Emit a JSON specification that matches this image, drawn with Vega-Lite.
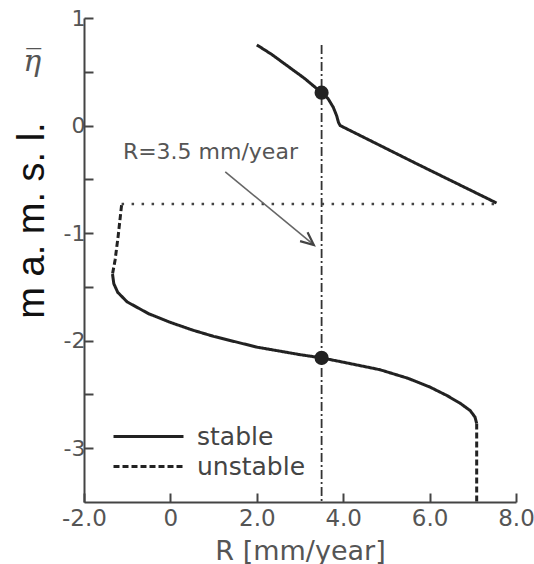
{
  "$schema": "https://vega.github.io/schema/vega-lite/v6.json",
  "width": 432,
  "height": 484,
  "autosize": {"type": "none"},
  "padding": {"left": 84, "top": 18, "right": 18, "bottom": 62},
  "config": {
    "view": {"stroke": null},
    "font": "DejaVu Sans",
    "legend": {
      "orient": "none",
      "legendX": 52,
      "legendY": 406,
      "padding": 0,
      "symbolType": "M -5 0 H 5",
      "symbolSize": 196,
      "symbolStrokeWidth": 3,
      "symbolStrokeColor": "#222",
      "symbolFillColor": "transparent",
      "labelFontSize": 25,
      "labelColor": "#444",
      "labelOffset": 36,
      "rowPadding": 4,
      "title": null
    }
  },
  "datasets": {
    "curves": [
      {"series": "upper", "stability": "stable", "ord": 1, "R": 2.0, "eta": 0.75},
      {"series": "upper", "stability": "stable", "ord": 2, "R": 2.35, "eta": 0.66},
      {"series": "upper", "stability": "stable", "ord": 3, "R": 2.69, "eta": 0.56},
      {"series": "upper", "stability": "stable", "ord": 4, "R": 3.1, "eta": 0.44},
      {"series": "upper", "stability": "stable", "ord": 5, "R": 3.5, "eta": 0.306},
      {"series": "upper", "stability": "stable", "ord": 6, "R": 3.65, "eta": 0.25},
      {"series": "upper", "stability": "stable", "ord": 7, "R": 3.77, "eta": 0.17},
      {"series": "upper", "stability": "stable", "ord": 8, "R": 3.85, "eta": 0.09},
      {"series": "upper", "stability": "stable", "ord": 9, "R": 3.89, "eta": 0.03},
      {"series": "upper", "stability": "stable", "ord": 10, "R": 3.93, "eta": 0.0},
      {"series": "upper", "stability": "stable", "ord": 11, "R": 5.7, "eta": -0.355},
      {"series": "upper", "stability": "stable", "ord": 12, "R": 7.55, "eta": -0.72},
      {"series": "low1", "stability": "unstable", "ord": 1, "R": -1.13, "eta": -0.74},
      {"series": "low1", "stability": "unstable", "ord": 2, "R": -1.21, "eta": -1.03},
      {"series": "low1", "stability": "unstable", "ord": 3, "R": -1.28, "eta": -1.25},
      {"series": "low1", "stability": "unstable", "ord": 4, "R": -1.34, "eta": -1.38},
      {"series": "low2", "stability": "stable", "ord": 1, "R": -1.34, "eta": -1.38},
      {"series": "low2", "stability": "stable", "ord": 2, "R": -1.31, "eta": -1.47},
      {"series": "low2", "stability": "stable", "ord": 3, "R": -1.22, "eta": -1.55},
      {"series": "low2", "stability": "stable", "ord": 4, "R": -1.0, "eta": -1.64},
      {"series": "low2", "stability": "stable", "ord": 5, "R": -0.5, "eta": -1.75},
      {"series": "low2", "stability": "stable", "ord": 6, "R": 0.0, "eta": -1.83},
      {"series": "low2", "stability": "stable", "ord": 7, "R": 0.5, "eta": -1.9},
      {"series": "low2", "stability": "stable", "ord": 8, "R": 1.0, "eta": -1.96},
      {"series": "low2", "stability": "stable", "ord": 9, "R": 2.0, "eta": -2.06},
      {"series": "low2", "stability": "stable", "ord": 10, "R": 3.0, "eta": -2.13},
      {"series": "low2", "stability": "stable", "ord": 11, "R": 3.5, "eta": -2.16},
      {"series": "low2", "stability": "stable", "ord": 12, "R": 4.0, "eta": -2.2},
      {"series": "low2", "stability": "stable", "ord": 13, "R": 4.85, "eta": -2.27},
      {"series": "low2", "stability": "stable", "ord": 14, "R": 5.5, "eta": -2.35},
      {"series": "low2", "stability": "stable", "ord": 15, "R": 6.0, "eta": -2.43},
      {"series": "low2", "stability": "stable", "ord": 16, "R": 6.4, "eta": -2.51},
      {"series": "low2", "stability": "stable", "ord": 17, "R": 6.7, "eta": -2.58},
      {"series": "low2", "stability": "stable", "ord": 18, "R": 6.94, "eta": -2.65},
      {"series": "low2", "stability": "stable", "ord": 19, "R": 7.05, "eta": -2.71},
      {"series": "low2", "stability": "stable", "ord": 20, "R": 7.09, "eta": -2.77},
      {"series": "low3", "stability": "unstable", "ord": 1, "R": 7.09, "eta": -2.77},
      {"series": "low3", "stability": "unstable", "ord": 2, "R": 7.09, "eta": -3.5}
    ],
    "dots": [{"R": 3.5, "eta": 0.306}, {"R": 3.5, "eta": -2.16}],
    "vline": [{"R": 3.5, "eta": 0.75, "eta2": -3.5}],
    "hline": [{"R": -1.13, "R2": 7.55, "eta": -0.73}],
    "arrow": [{"R": 3.32, "eta": -1.11, "R2": 1.27, "eta2": -0.43}],
    "note": [{"R": -1.1, "eta": -0.243, "text": "R=3.5 mm/year"}],
    "symbol": [{"R": -3.2, "eta": 0.59, "text": "η̅"}]
  },
  "encoding": {
    "x": {
      "field": "R",
      "type": "quantitative",
      "title": "R [mm/year]",
      "scale": {"domain": [-2, 8], "nice": false, "zero": false},
      "axis": {
        "values": [-2, 0, 2, 4, 6, 8],
        "labelExpr": "datum.value == 0 ? '0' : datum.value + '.0'",
        "grid": false,
        "domainColor": "#444",
        "domainWidth": 2,
        "tickColor": "#444",
        "tickWidth": 2,
        "tickSize": -9,
        "labelPadding": 14,
        "labelFontSize": 23,
        "labelColor": "#555",
        "labelFlush": false,
        "labelOverlap": false,
        "titleFontSize": 27,
        "titleFontWeight": "normal",
        "titleColor": "#555",
        "titleBaseline": "alphabetic",
        "titleY": 57
      }
    },
    "y": {
      "field": "eta",
      "type": "quantitative",
      "title": "m a. m. s. l.",
      "scale": {"domain": [-3.5, 1], "nice": false, "zero": false},
      "axis": {
        "values": [1, 0.5, 0, -0.5, -1, -1.5, -2, -2.5, -3],
        "labelExpr": "datum.value % 1 == 0 ? '' + datum.value : ''",
        "grid": false,
        "domainColor": "#444",
        "domainWidth": 2,
        "tickColor": "#444",
        "tickWidth": 2,
        "tickSize": -9,
        "labelPadding": 8,
        "labelFontSize": 22,
        "labelColor": "#555",
        "labelFlush": false,
        "labelOverlap": false,
        "titleFont": "Liberation Sans",
        "titleFontSize": 38,
        "titleFontWeight": "normal",
        "titleColor": "#111",
        "titleBaseline": "alphabetic",
        "titleX": -41,
        "titleY": 202
      }
    }
  },
  "layer": [
    {
      "data": {"name": "curves"},
      "mark": {"type": "line", "strokeWidth": 3, "color": "#222"},
      "encoding": {
        "detail": {"field": "series"},
        "order": {"field": "ord", "type": "quantitative"},
        "strokeDash": {
          "field": "stability",
          "type": "nominal",
          "scale": {"domain": ["stable", "unstable"], "range": [[1, 0], [6, 3]]}
        }
      }
    },
    {
      "data": {"name": "vline"},
      "mark": {"type": "rule", "strokeDash": [9, 3, 2, 3], "strokeWidth": 1.8, "color": "#333"},
      "encoding": {"y2": {"field": "eta2"}}
    },
    {
      "data": {"name": "hline"},
      "mark": {"type": "rule", "strokeDash": [2.5, 7.5], "strokeWidth": 2.5, "color": "#444"},
      "encoding": {"x2": {"field": "R2"}}
    },
    {
      "data": {"name": "arrow"},
      "mark": {"type": "rule", "strokeWidth": 1.6, "color": "#666"},
      "encoding": {"x2": {"field": "R2"}, "y2": {"field": "eta2"}}
    },
    {
      "data": {"name": "arrow"},
      "mark": {"type": "point", "shape": "M -1 -0.45 L 0 0 L -1 0.45", "filled": false, "stroke": "#444", "strokeWidth": 2.2, "size": 676, "angle": 39.6, "opacity": 1},
      "encoding": {}
    },
    {
      "data": {"name": "dots"},
      "mark": {"type": "point", "shape": "circle", "filled": true, "color": "#222", "size": 200, "opacity": 1},
      "encoding": {}
    },
    {
      "data": {"name": "note"},
      "mark": {"type": "text", "align": "left", "baseline": "middle", "fontSize": 22, "color": "#555"},
      "encoding": {"text": {"field": "text"}}
    },
    {
      "data": {"name": "symbol"},
      "mark": {"type": "text", "align": "center", "baseline": "middle", "fontSize": 30, "font": "DejaVu Serif", "fontStyle": "italic", "color": "#555"},
      "encoding": {"text": {"field": "text"}}
    }
  ]
}
